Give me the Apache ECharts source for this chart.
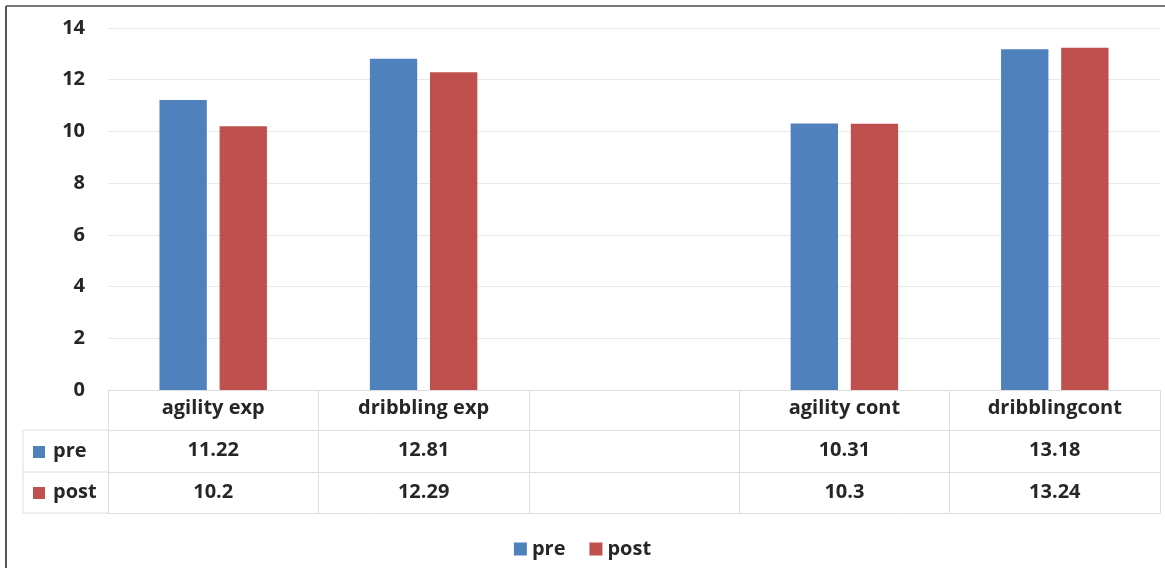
<!DOCTYPE html>
<html>
<head>
<meta charset="utf-8">
<script src="https://cdn.jsdelivr.net/npm/echarts@6/dist/echarts.min.js"></script>
<style>
html,body{margin:0;padding:0;background:#fff;}
#c{width:1165px;height:573px;}
</style>
</head>
<body>
<div id="c"></div>
<script>
const categories = ['agility exp', 'dribbling exp', '', 'agility cont', 'dribblingcont'];
const preValues = [11.22, 12.81, null, 10.31, 13.18];
const postValues = [10.2, 12.29, null, 10.3, 13.24];
const yTicks = [0, 2, 4, 6, 8, 10, 12, 14];

const BLUE = '#4f81bd', RED = '#c0504d', GRID = '#dedede', TXT = '#262626';
const FONT = '"Open Sans", "DejaVu Sans", sans-serif';
const FS = 20;
const fmt = v => (v == null ? '' : String(v));

const gridL = 108, gridR = 5, gridT = 28, gridB = 183;
const H = 573;
const rowOff = [0, 40, 82, 123];

const chart = echarts.init(document.getElementById('c'), null, {renderer: 'canvas'});

function tableAxis(data, offset, showLabel) {
  return {
    type: 'category', data: data, position: 'bottom', offset: offset,
    gridIndex: 0,
    axisLine: {show: true, lineStyle: {color: GRID, width: 1}},
    axisTick: {show: false},
    axisLabel: {show: showLabel, interval: 0, color: TXT, fontWeight: 'bold', fontSize: FS, fontFamily: FONT, margin: 10},
    splitLine: {show: false}
  };
}

const yBottom = H - gridB;
const leftX = 23;

chart.setOption({
  animation: false,
  backgroundColor: '#fff',
  grid: {left: gridL, right: gridR, top: gridT, bottom: gridB, containLabel: false},
  legend: {
    bottom: 9, left: 'center', itemWidth: 13, itemHeight: 13, itemGap: 24,
    icon: 'rect',
    textStyle: {color: TXT, fontWeight: 'bold', fontSize: FS, fontFamily: FONT},
    data: ['pre', 'post']
  },
  xAxis: [
    {
      type: 'category', data: categories, position: 'bottom', offset: 0,
      axisLine: {show: true, lineStyle: {color: GRID, width: 1}},
      axisTick: {show: true, length: rowOff[3], lineStyle: {color: GRID, width: 1}, interval: 0},
      axisLabel: {interval: 0, color: TXT, fontWeight: 'bold', fontSize: FS, fontFamily: FONT, margin: 8},
      splitLine: {show: false}
    },
    tableAxis(preValues.map(fmt), rowOff[1], true),
    tableAxis(postValues.map(fmt), rowOff[2], true),
    tableAxis(categories.map(() => ''), rowOff[3], false)
  ],
  yAxis: {
    type: 'value', min: 0, max: 14, interval: 2,
    axisLine: {show: false}, axisTick: {show: false},
    axisLabel: {color: TXT, fontWeight: 'bold', fontSize: FS, fontFamily: FONT, margin: 23,
      formatter: v => (yTicks.indexOf(v) >= 0 ? String(v) : '')},
    splitLine: {lineStyle: {color: '#e8e8e8', width: 1}}
  },
  series: [
    {name: 'pre', type: 'bar', data: preValues, xAxisIndex: 0, barWidth: '22.5%', barGap: '27%',
      itemStyle: {color: BLUE}},
    {name: 'post', type: 'bar', data: postValues, xAxisIndex: 0, barWidth: '22.5%', barGap: '27%',
      itemStyle: {color: RED}}
  ],
  graphic: [
    {type: 'line', shape: {x1: 6, y1: 6, x2: 1165, y2: 6}, style: {stroke: '#7a7a7a', lineWidth: 2}, silent: true},
    {type: 'line', shape: {x1: 6, y1: 6, x2: 6, y2: 568}, style: {stroke: '#555', lineWidth: 2}, silent: true},
    {type: 'line', shape: {x1: leftX, y1: yBottom + rowOff[1], x2: gridL, y2: yBottom + rowOff[1]}, style: {stroke: GRID, lineWidth: 1}, silent: true},
    {type: 'line', shape: {x1: leftX, y1: yBottom + rowOff[2], x2: gridL, y2: yBottom + rowOff[2]}, style: {stroke: GRID, lineWidth: 1}, silent: true},
    {type: 'line', shape: {x1: leftX, y1: yBottom + rowOff[3], x2: gridL, y2: yBottom + rowOff[3]}, style: {stroke: GRID, lineWidth: 1}, silent: true},
    {type: 'line', shape: {x1: leftX, y1: yBottom + rowOff[1], x2: leftX, y2: yBottom + rowOff[3]}, style: {stroke: GRID, lineWidth: 1}, silent: true},
    {type: 'rect', shape: {x: leftX + 10, y: yBottom + 56, width: 12, height: 12}, style: {fill: BLUE}, silent: true},
    {type: 'text', x: leftX + 30, y: yBottom + 61, style: {text: 'pre', fill: TXT, font: 'bold ' + FS + 'px ' + FONT, verticalAlign: 'middle'}, silent: true},
    {type: 'rect', shape: {x: leftX + 10, y: yBottom + 97, width: 12, height: 12}, style: {fill: RED}, silent: true},
    {type: 'text', x: leftX + 30, y: yBottom + 102, style: {text: 'post', fill: TXT, font: 'bold ' + FS + 'px ' + FONT, verticalAlign: 'middle'}, silent: true}
  ]
});
</script>
</body>
</html>
